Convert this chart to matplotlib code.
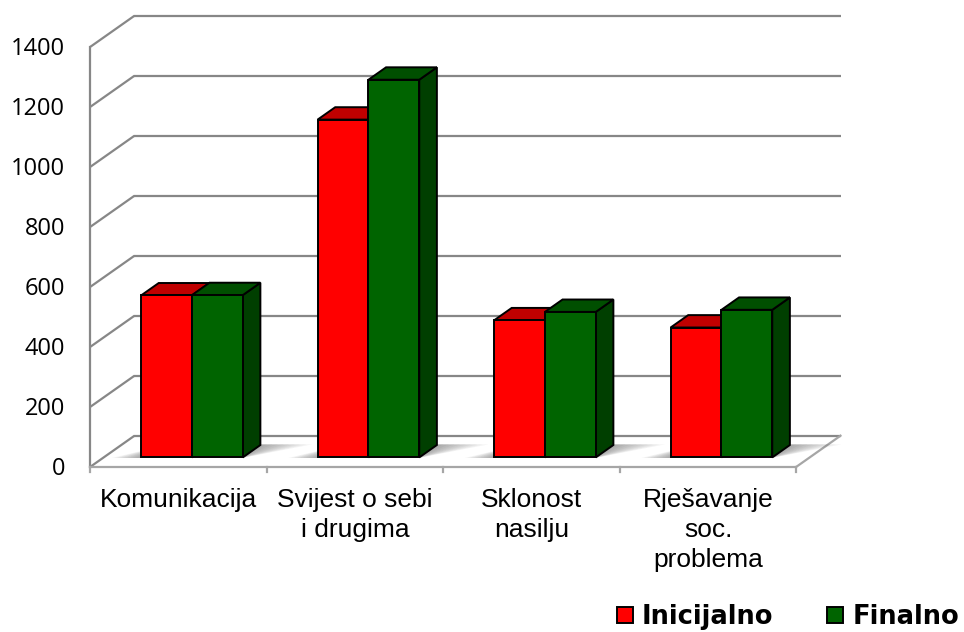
import matplotlib
matplotlib.use('Agg')
import matplotlib.pyplot as plt
from matplotlib.patches import Polygon, Patch

# ---- data ----
categories = ['Komunikacija', 'Svijest o sebi\ni drugima', 'Sklonost\nnasilju', 'Rješavanje\nsoc.\nproblema']
inicijalno = [540, 1126, 457, 433]
finalno = [541, 1259, 485, 492]
series_names = ['Inicijalno', 'Finalno']
y_ticks = [0, 200, 400, 600, 800, 1000, 1200, 1400]

# ---- styles ----
front_cols = ['#FF0000', '#006400']
top_cols = ['#C00000', '#004F00']
side_cols = ['#A00000', '#003F00']
grid_c = '#878787'

W, H = 964, 632
fig = plt.figure(figsize=(W / 100, H / 100), dpi=100)
ax = fig.add_axes([0, 0, 1, 1])
ax.set_xlim(-0.5127, 4.949)
ax.set_ylim(-551, 1555.7)
ax.axis('off')

DX = 0.2493   # depth offset in category units
DY = 103.3    # depth offset in value units
n = len(categories)
ymax = y_ticks[-1]


def off(x, y, d):
    return (x + d * DX, y + d * DY)


# walls / gridlines
for v in y_ticks:
    ax.plot([0, DX], [v, v + DY], color=grid_c, lw=1.6, zorder=1, solid_capstyle='butt')
    ax.plot([DX, n + DX], [v + DY, v + DY], color=grid_c, lw=1.6, zorder=1, solid_capstyle='butt')
ax.plot([0, 0], [0, ymax], color=grid_c, lw=1.6, zorder=1)
ax.plot([0, n], [0, 0], color='#a6a6a6', lw=1.6, zorder=1)
ax.plot([n, n + DX], [0, DY], color='#a6a6a6', lw=1.6, zorder=1)
for i in range(n + 1):
    ax.plot([i, i], [0, -18], color='#a6a6a6', lw=1.6, zorder=1)

# bars
bw = 0.288
start = (1 - 2 * bw) / 2
d0, d1 = 0.3, 0.7
for i in range(n):
    gx0 = i + start
    gx1 = gx0 + 2 * bw
    # soft shadow on the floor
    for k in range(10):
        e = 0.02 * k
        quad = [off(gx0 - e * 0.9, 0, d0 - 0.02), off(gx1, 0, d0 - 0.02),
                off(gx1 + e * 1.6, 0, d1 + 0.02), off(gx0 + 0.05, 0, d1 + 0.02)]
        ax.add_patch(Polygon(quad, closed=True, facecolor='#404040', edgecolor='none',
                             alpha=0.06, zorder=2))
    for s, vals in enumerate([inicijalno, finalno]):
        x0 = gx0 + s * bw
        x1 = x0 + bw
        v = vals[i]
        front = [off(x0, 0, d0), off(x1, 0, d0), off(x1, v, d0), off(x0, v, d0)]
        top = [off(x0, v, d0), off(x1, v, d0), off(x1, v, d1), off(x0, v, d1)]
        side = [off(x1, 0, d0), off(x1, 0, d1), off(x1, v, d1), off(x1, v, d0)]
        for poly, col in ((side, side_cols[s]), (top, top_cols[s]), (front, front_cols[s])):
            ax.add_patch(Polygon(poly, closed=True, facecolor=col, edgecolor='black',
                                 lw=1.4, joinstyle='miter', zorder=3 + s))

# y tick labels
for v in y_ticks:
    ax.text(-0.145, v - 6, str(v), ha='right', va='center', fontsize=17,
            family='Open Sans', color='black')

# category labels
for i, c in enumerate(categories):
    ax.text(i + 0.5, -70, c, ha='center', va='top', fontsize=19,
            family='Liberation Sans', linespacing=1.32, color='black')

# legend
handles = [Patch(facecolor=front_cols[k], edgecolor='black', lw=1.4) for k in range(2)]
fig.legend(handles, series_names, loc='center left',
           bbox_to_anchor=(617 / W, 1 - 617 / H), ncol=2, frameon=False,
           prop={'family': 'DejaVu Sans', 'weight': 'bold', 'size': 18.5},
           handlelength=0.62, handleheight=0.62, handletextpad=0.35,
           columnspacing=2.1, borderpad=0, borderaxespad=0)

fig.savefig('out.png', dpi=100)
